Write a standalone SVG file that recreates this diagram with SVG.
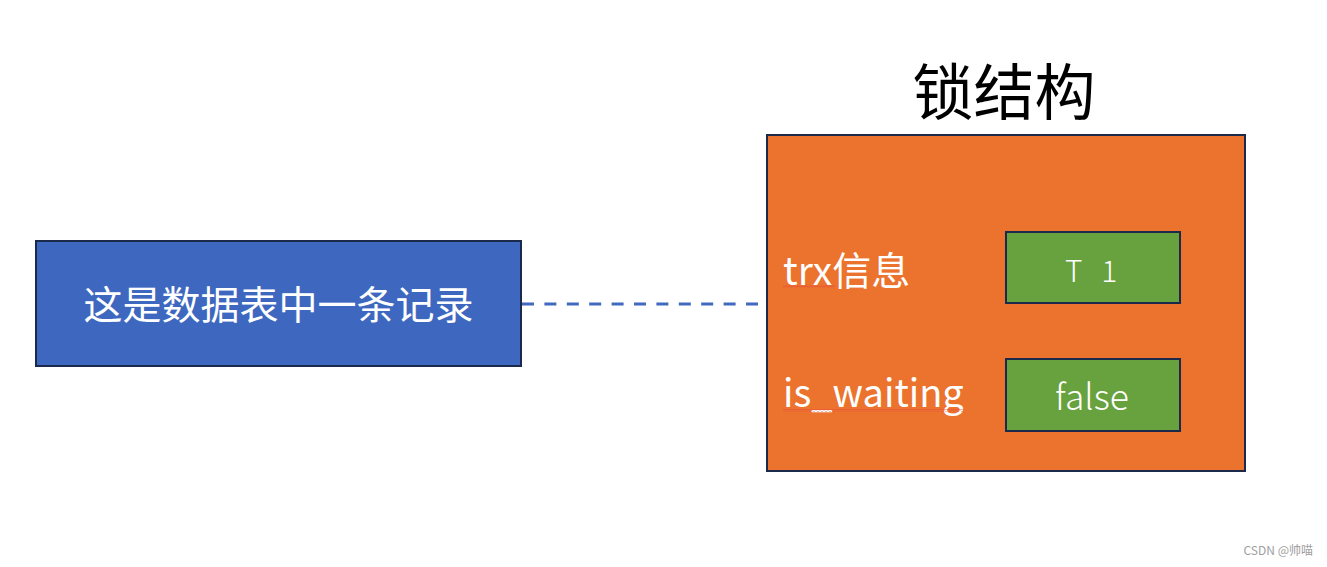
<svg xmlns="http://www.w3.org/2000/svg" width="1327" height="567" viewBox="0 0 1327 567">
<defs>
<style>
.box{stroke:#1B2A4A;stroke-width:2}
.t{font-family:"Microsoft YaHei","Noto Sans CJK SC","Noto Sans",sans-serif;fill:#FFFFFF}
</style>
<pattern id="wave" width="4" height="3" patternUnits="userSpaceOnUse">
<path d="M0 2.5 L2 0.5 L4 2.5" fill="none" stroke="#E8463C" stroke-width="0.9"/>
</pattern>
</defs>
<rect width="1327" height="567" fill="#FFFFFF"/>
<g id="connectors">
<line x1="522" y1="304" x2="766" y2="304" stroke="#4169BF" stroke-width="3" stroke-dasharray="12 10.4"/>
</g>
<g id="record">
<rect class="box" x="36" y="241" width="485" height="125" fill="#3E68BF"/>
<text class="t" x="278.5" y="319" font-size="39" text-anchor="middle">这是数据表中一条记录</text>
</g>
<g id="lock">
<text x="1004" y="115" font-size="61" text-anchor="middle" font-family="'Microsoft YaHei','Noto Sans CJK SC',sans-serif" fill="#000000">锁结构</text>
<rect class="box" x="767" y="135" width="478" height="336" fill="#EB732E"/>
<text class="t" x="783" y="285" font-size="39">trx信息</text>
<rect x="783" y="285" width="52" height="3" fill="url(#wave)"/>
<text class="t" x="783" y="407" font-size="38">is_waiting</text>
<rect x="783" y="409" width="181" height="3" fill="url(#wave)"/>
</g>
<g id="trx-value">
<rect class="box" x="1006" y="232" width="174" height="71" fill="#67A23E"/>
<text class="t" x="1065" y="282" font-size="30" font-weight="300" letter-spacing="6">T 1</text>
</g>
<g id="waiting-value">
<rect class="box" x="1006" y="359" width="174" height="72" fill="#67A23E"/>
<text class="t" x="1092" y="410" font-size="35.5" font-weight="300" text-anchor="middle">false</text>
</g>
<text x="1313" y="555" font-size="12" text-anchor="end" font-family="'Noto Sans CJK SC','Noto Sans',sans-serif" fill="#A0A0A0">CSDN @帅喵</text>
</svg>
